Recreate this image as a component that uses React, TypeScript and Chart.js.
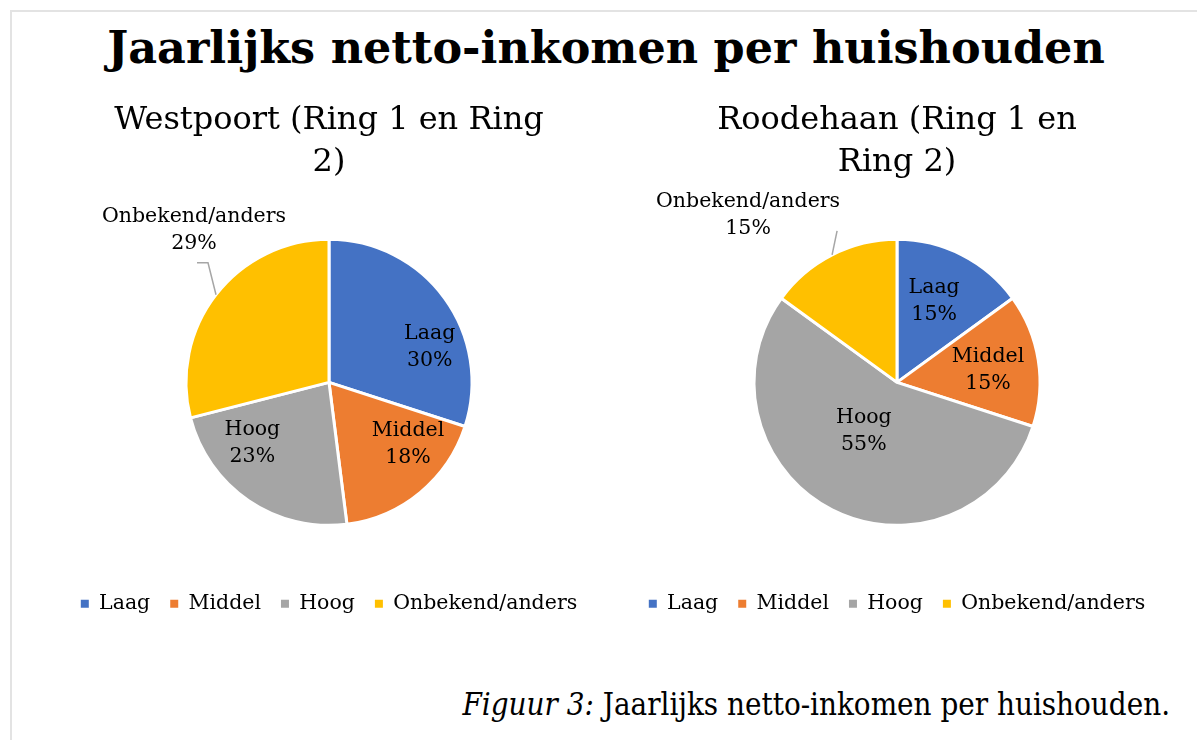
import React, { useEffect, useRef } from "react";
import { Chart, registerables } from "chart.js";

Chart.register(...registerables);

const categories = ["Laag", "Middel", "Hoog", "Onbekend/anders"];
const westpoortValues = [30, 18, 23, 29];
const roodehaanValues = [15, 15, 55, 15];
const colors = ["#4472C4", "#ED7D31", "#A5A5A5", "#FFC000"];

const mainTitle = "Jaarlijks netto-inkomen per huishouden";
const westpoortTitle = ["Westpoort (Ring 1 en Ring", "2)"];
const roodehaanTitle = ["Roodehaan (Ring 1 en", "Ring 2)"];
const captionLead = "Figuur 3:";
const captionText = " Jaarlijks netto-inkomen per huishouden.";

const SERIF = "'DejaVu Serif', 'Liberation Serif', serif";
const LABEL_SIZE = 20.5;

type LabelStyle = { out: boolean; dx: number; dy: number; leader?: number[][] };

const westpoortLabelStyle: LabelStyle[] = [
  { out: false, dx: 22, dy: 22 },
  { out: false, dx: 17, dy: -13 },
  { out: false, dx: -22, dy: -20 },
  { out: true, dx: -22, dy: -65, leader: [[-8, -32], [-19, -32]] },
];
const roodehaanLabelStyle: LabelStyle[] = [
  { out: false, dx: -7, dy: 5 },
  { out: false, dx: -5, dy: 3 },
  { out: false, dx: 11, dy: -38 },
  { out: true, dx: -84, dy: -40, leader: [[5, -24]] },
];

function makeLabelPlugin(styles: LabelStyle[]) {
  return {
    id: "sliceLabels",
    afterDatasetsDraw(chart: any) {
      const ctx = chart.ctx;
      const meta = chart.getDatasetMeta(0);
      const data = chart.data.datasets[0].data as number[];
      const labels = chart.data.labels as string[];
      ctx.save();
      meta.data.forEach((arc: any, i: number) => {
        const p = arc.getProps(["x", "y", "startAngle", "endAngle", "outerRadius"], true);
        const mid = (p.startAngle + p.endAngle) / 2;
        const st = styles[i];
        const f = st.out ? 1 : 0.68;
        const bx = p.x + Math.cos(mid) * p.outerRadius * f;
        const by = p.y + Math.sin(mid) * p.outerRadius * f;
        if (st.out && st.leader) {
          ctx.strokeStyle = "#A6A6A6";
          ctx.lineWidth = 1.5;
          ctx.beginPath();
          ctx.moveTo(bx, by);
          st.leader.forEach((pt) => ctx.lineTo(bx + pt[0], by + pt[1]));
          ctx.stroke();
        }
        const cx = bx + st.dx;
        const cy = by + st.dy;
        ctx.fillStyle = "#000";
        ctx.font = `${LABEL_SIZE}px ${SERIF}`;
        ctx.textAlign = "center";
        ctx.textBaseline = "middle";
        ctx.fillText(labels[i], cx, cy - 13.5);
        ctx.fillText(`${data[i]}%`, cx, cy + 13.5);
      });
      ctx.restore();
    },
  };
}

function PieChart({ values, title, styles }: { values: number[]; title: string[]; styles: LabelStyle[] }) {
  const ref = useRef<HTMLCanvasElement | null>(null);
  useEffect(() => {
    if (!ref.current) return;
    const defaultGen = (Chart as any).overrides.pie.plugins.legend.labels.generateLabels;
    const chart = new Chart(ref.current, {
      type: "pie",
      data: {
        labels: categories,
        datasets: [
          {
            data: values,
            backgroundColor: colors,
            borderColor: "#FFFFFF",
            borderWidth: 3,
            radius: 143,
          } as any,
        ],
      },
      options: {
        animation: false,
        responsive: false,
        maintainAspectRatio: false,
        layout: { padding: { top: 0, bottom: 11, left: 0, right: 0 } },
        plugins: {
          title: {
            display: true,
            text: title,
            color: "#000",
            font: { family: SERIF, size: 32, weight: "normal", lineHeight: 1.3 },
            padding: { top: 15, bottom: 8 },
          },
          legend: {
            position: "bottom",
            labels: {
              boxWidth: 8,
              boxHeight: 8,
              color: "#000",
              padding: 20,
              font: { family: SERIF, size: LABEL_SIZE },
              generateLabels: (c: any) =>
                defaultGen(c).map((item: any) => ({ ...item, lineWidth: 0, strokeStyle: item.fillStyle })),
            },
          },
          tooltip: { enabled: false },
        },
      },
      plugins: [makeLabelPlugin(styles)],
    });
    return () => chart.destroy();
  }, [values, title, styles]);
  return <canvas ref={ref} width={560} height={550} style={{ width: 560, height: 550, display: "block" }} />;
}

export default function App() {
  return (
    <div style={{ position: "absolute", left: 0, top: 0, width: 1197, height: 740, overflow: "hidden", background: "#fff" }}>
      <div
        style={{
          position: "absolute",
          left: 10,
          top: 10,
          width: 1400,
          height: 900,
          borderLeft: "2px solid #E3E3E3",
          borderTop: "2px solid #E3E3E3",
        }}
      />
      <div
        style={{
          position: "absolute",
          left: 0,
          width: 1212,
          top: 18,
          textAlign: "center",
          fontFamily: SERIF,
          fontWeight: "bold",
          fontSize: 44.5,
          lineHeight: "58px",
          color: "#000",
          whiteSpace: "nowrap",
        }}
      >
        {mainTitle}
      </div>
      <div style={{ position: "absolute", left: 49, top: 85 }}>
        <PieChart values={westpoortValues} title={westpoortTitle} styles={westpoortLabelStyle} />
      </div>
      <div style={{ position: "absolute", left: 617, top: 85 }}>
        <PieChart values={roodehaanValues} title={roodehaanTitle} styles={roodehaanLabelStyle} />
      </div>
      <div
        style={{
          position: "absolute",
          right: 27,
          top: 684,
          fontFamily: "'DejaVu Serif Condensed', 'DejaVu Serif', serif",
          fontStretch: "condensed",
          fontSize: 31,
          lineHeight: "40px",
          color: "#000",
          whiteSpace: "nowrap",
        }}
      >
        <i>{captionLead}</i>
        {captionText}
      </div>
    </div>
  );
}
